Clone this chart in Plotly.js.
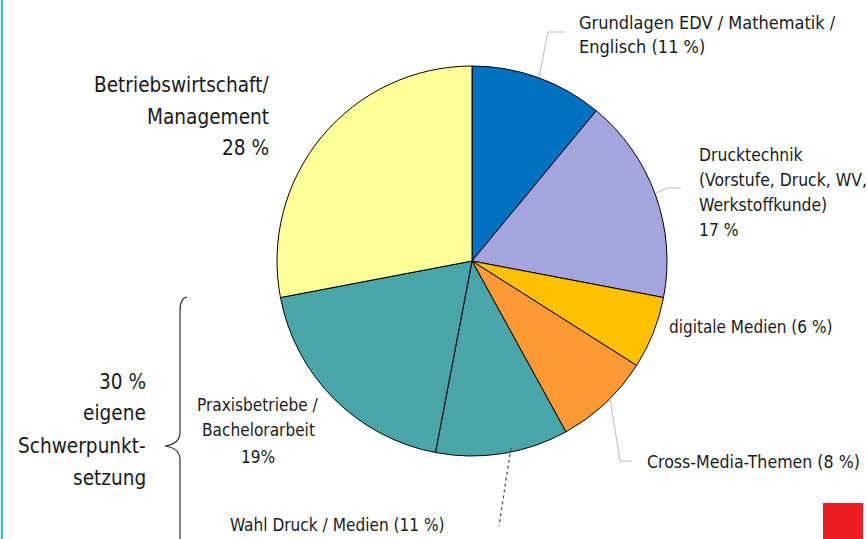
<!DOCTYPE html>
<html>
<head>
<meta charset="utf-8">
<script src="https://cdn.plot.ly/plotly-3.0.1.min.js"></script>
<style>html,body{margin:0;padding:0;background:#fff;}#chart{width:867px;height:539px;}</style>
</head>
<body>
<div id="chart"></div>
<script>
// ---- data ----
const categories = [
  "Grundlagen EDV / Mathematik / Englisch",
  "Drucktechnik",
  "digitale Medien",
  "Cross-Media-Themen",
  "Wahl Druck / Medien",
  "Praxisbetriebe / Bachelorarbeit",
  "Betriebswirtschaft / Management"
];
const shares = [11, 17, 6, 8, 11, 19, 28];
const sliceColors = ["#0070C0", "#A4A4DE", "#FFC000", "#FF9933", "#4AA5A8", "#4AA5A8", "#FFFF99"];
const labelLines = [
  ["Grundlagen EDV / Mathematik /", "Englisch (11 %)"],
  ["Drucktechnik", "(Vorstufe, Druck, WV,", "Werkstoffkunde)", "17 %"],
  ["digitale Medien (6 %)"],
  ["Cross-Media-Themen (8 %)"],
  ["Wahl Druck / Medien (11 %)"],
  ["Praxisbetriebe /", "Bachelorarbeit", "19%"],
  ["Betriebswirtschaft/", "Management", "28 %"]
];
const groupLines = ["30 %", "eigene", "Schwerpunkt-", "setzung"];

// ---- layout helpers (pixel -> paper) ----
const W = 867, H = 539;
const px = x => x / W;
const py = y => 1 - y / H;
const FONT = '"DejaVu Sans Condensed", "Liberation Sans Narrow", sans-serif';
const TXT = '#1a1a1a';

function pathFrom(cmds) {
  return cmds.map(c => {
    let s = c[0];
    for (let i = 1; i < c.length; i += 2) s += ' ' + px(c[i]).toFixed(5) + ',' + py(c[i + 1]).toFixed(5);
    return s;
  }).join(' ');
}

const trace = {
  type: 'pie',
  labels: categories,
  values: shares,
  sort: false,
  direction: 'clockwise',
  rotation: 0,
  textinfo: 'none',
  hoverinfo: 'none',
  showlegend: false,
  marker: { colors: sliceColors, line: { color: '#000', width: 1 } },
  domain: { x: [px(277), px(667)], y: [py(456), py(66)] }
};

// label placement: [x anchor px, xanchor, line centre ys, font size]
const placements = [
  [578, 'left', [22, 47], 18],
  [698, 'left', [155, 180, 205, 230], 17.4],
  [668, 'left', [327], 17],
  [646, 'left', [462], 17.6],
  [337.5, 'center', [525], 17.1],
  [258, 'center', [405, 430, 457], 17.1],
  [270, 'right', [85, 117, 148], 20.6]
];
const groupPlacement = [147, 'right', [382, 413, 446, 478], 20.6];

const annotations = [];
function addLines(lines, pl) {
  lines.forEach((t, i) => annotations.push({
    text: t, xref: 'paper', yref: 'paper', x: px(pl[0]), y: py(pl[2][i]),
    xanchor: pl[1], yanchor: 'middle', align: pl[1] === 'center' ? 'center' : pl[1],
    showarrow: false, borderpad: 0, font: { family: FONT, size: pl[3], color: TXT }
  }));
}
labelLines.forEach((lines, k) => addLines(lines, placements[k]));
addLines(groupLines, groupPlacement);

const shapes = [
  // left border
  { type: 'line', xref: 'paper', yref: 'paper', x0: px(2), x1: px(2), y0: 0, y1: 1,
    line: { color: '#4DB6BE', width: 2.5 } },
  // curly brace
  { type: 'path', xref: 'paper', yref: 'paper',
    path: pathFrom([['M', 187, 297], ['Q', 180, 298, 180, 311], ['L', 180, 432], ['Q', 180, 444, 165, 446],
                    ['Q', 180, 448, 180, 460], ['L', 180, 545]]),
    line: { color: '#333', width: 1.2 } },
  // leader lines
  { type: 'path', xref: 'paper', yref: 'paper',
    path: pathFrom([['M', 539, 77], ['L', 548, 32], ['L', 565, 32]]),
    line: { color: '#BBBBBB', width: 1 } },
  { type: 'path', xref: 'paper', yref: 'paper',
    path: pathFrom([['M', 656, 193], ['L', 668, 188], ['L', 681, 188]]),
    line: { color: '#BBBBBB', width: 1 } },
  { type: 'path', xref: 'paper', yref: 'paper',
    path: pathFrom([['M', 610, 398], ['L', 620, 461], ['L', 632, 461]]),
    line: { color: '#BBBBBB', width: 1 } },
  { type: 'line', xref: 'paper', yref: 'paper', x0: px(511), y0: py(448), x1: px(499), y1: py(526),
    line: { color: '#555555', width: 1.3, dash: 'dot' } },
  // red square
  { type: 'rect', xref: 'paper', yref: 'paper', x0: px(823), x1: px(863), y0: py(545), y1: py(503),
    fillcolor: '#EE1C25', line: { width: 0 } }
];

const layout = {
  width: W, height: H,
  margin: { l: 0, r: 0, t: 0, b: 0 },
  paper_bgcolor: '#ffffff',
  showlegend: false,
  annotations: annotations,
  shapes: shapes
};

Plotly.newPlot('chart', [trace], layout, { displayModeBar: false, staticPlot: true });
</script>
</body>
</html>
